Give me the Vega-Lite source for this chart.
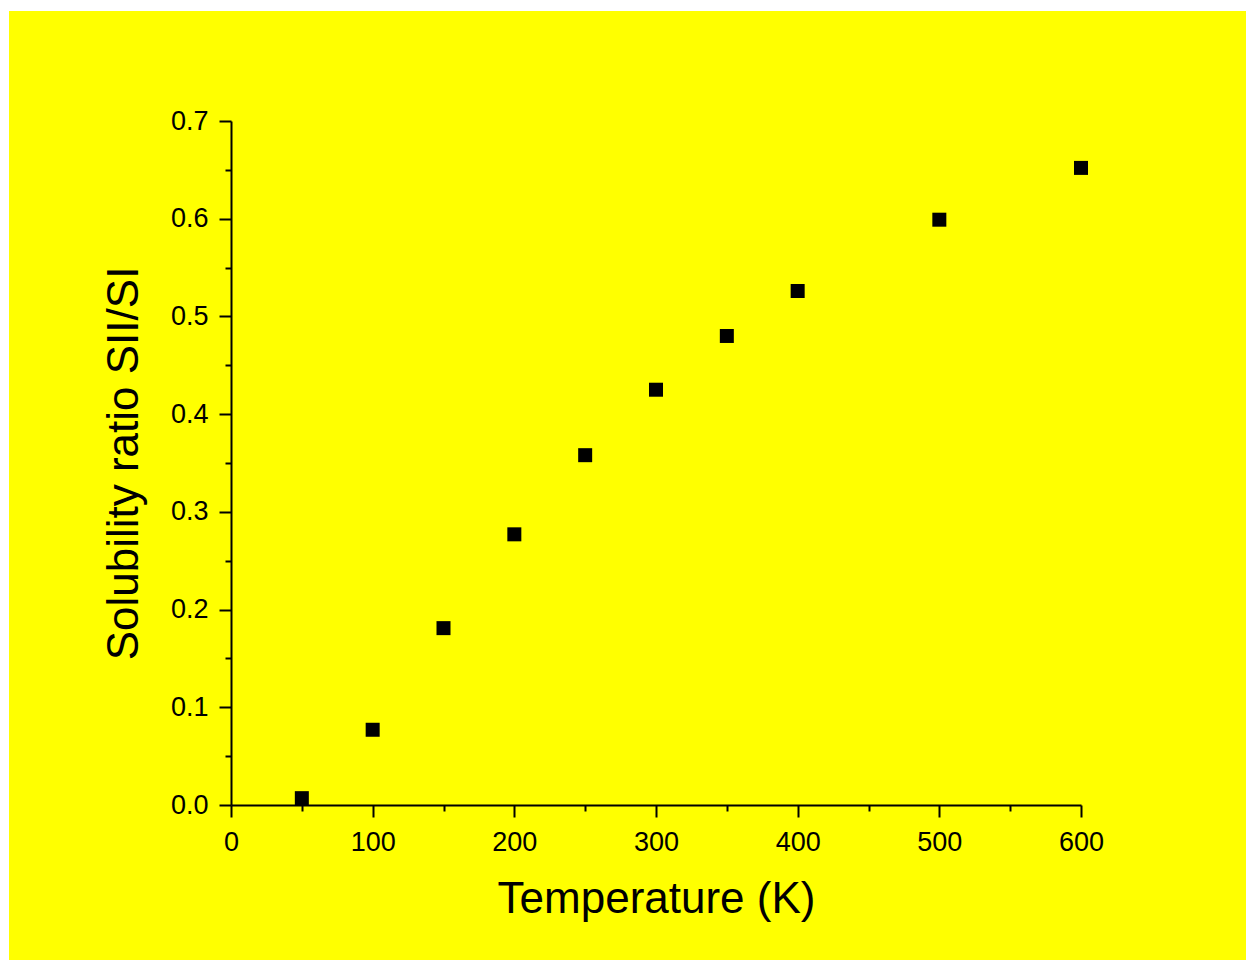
{
  "$schema": "https://vega.github.io/schema/vega-lite/v6.json",
  "width": 1237,
  "height": 949,
  "autosize": {"type": "none"},
  "padding": {"left": 9, "top": 11, "right": 0, "bottom": 0},
  "background": "#FFFFFF",
  "config": {
    "view": {"fill": "#FFFF00", "stroke": null},
    "font": "Liberation Sans",
    "axis": {
      "domainColor": "#000000",
      "domainWidth": 2,
      "tickColor": "#000000",
      "tickWidth": 2,
      "grid": false,
      "labelFont": "Liberation Sans",
      "labelFontSize": 27,
      "labelColor": "#000000",
      "titleFont": "Liberation Sans",
      "titleFontSize": 44,
      "titleFontWeight": "normal",
      "titleColor": "#000000"
    }
  },
  "data": {
    "values": [
      {"T": 50, "ratio": 0.007},
      {"T": 100, "ratio": 0.077},
      {"T": 150, "ratio": 0.181},
      {"T": 200, "ratio": 0.277},
      {"T": 250, "ratio": 0.358},
      {"T": 300, "ratio": 0.425},
      {"T": 350, "ratio": 0.480},
      {"T": 400, "ratio": 0.526},
      {"T": 500, "ratio": 0.599},
      {"T": 600, "ratio": 0.652}
    ]
  },
  "mark": {"type": "square", "size": 196, "filled": true, "color": "#000000", "opacity": 1},
  "encoding": {
    "x": {
      "field": "T",
      "type": "quantitative",
      "scale": {"domain": [0, 600], "range": [222, 1072], "nice": false, "zero": false},
      "axis": {
        "title": "Temperature (K)",
        "offset": -155,
        "values": [0, 50, 100, 150, 200, 250, 300, 350, 400, 450, 500, 550, 600],
        "labelExpr": "datum.value % 100 === 0 ? datum.label : ''",
        "tickSize": {"condition": {"test": "datum.value % 100 === 0", "value": 12}, "value": 6},
        "labelPadding": 12,
        "titlePadding": 22,
        "labelFlush": false,
        "labelOverlap": false
      }
    },
    "y": {
      "field": "ratio",
      "type": "quantitative",
      "scale": {"domain": [0, 0.7], "range": [794, 110], "nice": false, "zero": false},
      "axis": {
        "title": "Solubility ratio SII/SI",
        "offset": -222,
        "values": [0, 0.05, 0.1, 0.15, 0.2, 0.25, 0.3, 0.35, 0.4, 0.45, 0.5, 0.55, 0.6, 0.65, 0.7],
        "labelExpr": "round(datum.value * 100) % 10 === 0 ? format(datum.value, '.1f') : ''",
        "tickSize": {"condition": {"test": "round(datum.value * 100) % 10 === 0", "value": 12}, "value": 6},
        "labelPadding": 11,
        "titlePadding": 24,
        "labelFlush": false,
        "labelOverlap": false
      }
    }
  }
}
